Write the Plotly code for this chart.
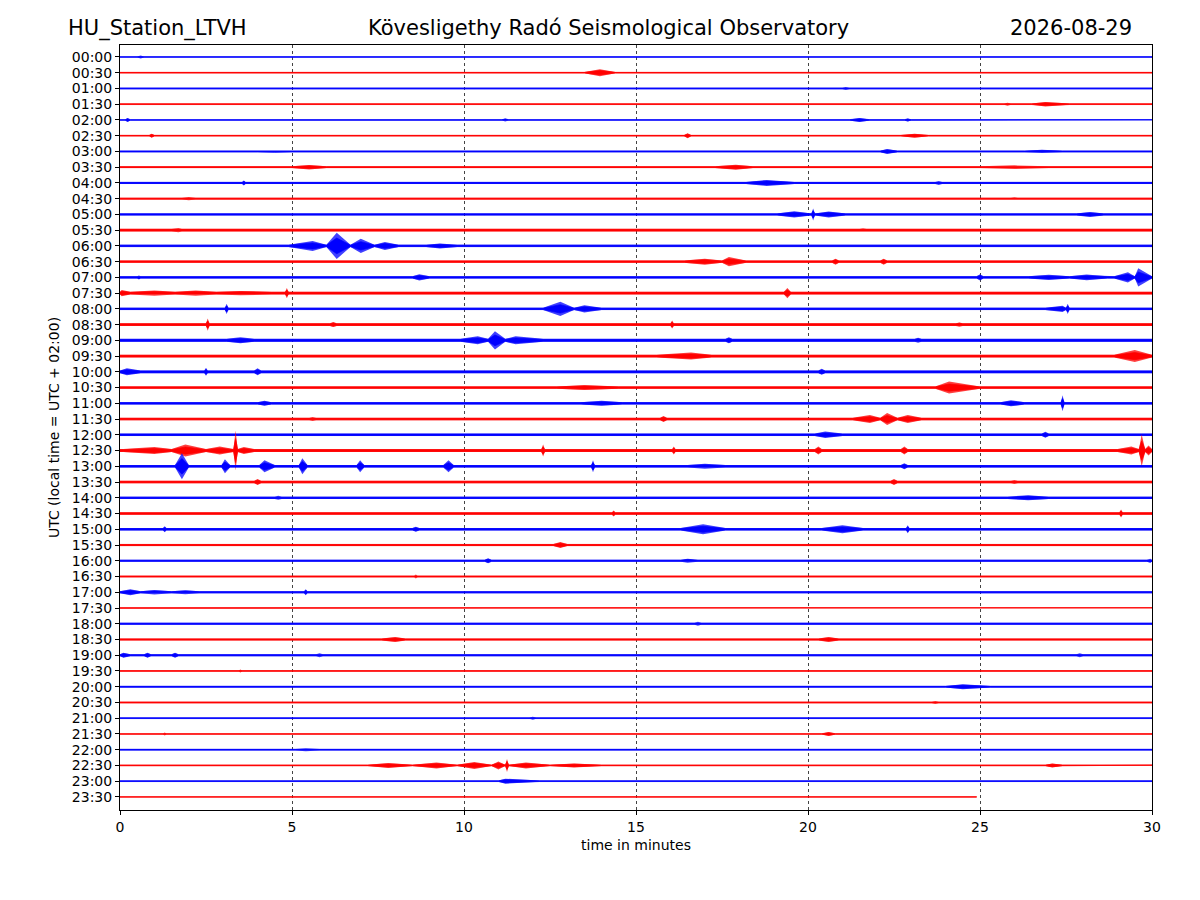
import plotly.graph_objects as go

# helicorder rows: one 30 minute line per half hour
HOURS = ["%02d:%02d" % (h, m) for h in range(24) for m in (0, 30)]
TRACE_END = [30.0] * 47 + [24.9]

# background noise half-width of each row (counts)
NOISE = [0.5, 0.6, 0.7, 0.6, 0.5, 0.6, 0.8, 0.8, 1.0, 0.8, 1.0, 1.3,
         1.2, 1.2, 1.2, 1.3, 1.2, 1.3, 1.5, 1.3, 1.4, 1.2, 1.2, 1.2,
         1.2, 1.5, 1.3, 1.2, 1.1, 1.2, 1.2, 1.0, 0.9, 0.8, 1.0, 0.6,
         0.9, 0.9, 0.9, 0.6, 0.8, 0.7, 0.6, 0.5, 0.7, 0.6, 0.6, 0.4]

# events per row: (start min, peak min, end min, peak amplitude)
EVENTS = {
    0: [(0.5, 0.6, 0.7, 1.5)],
    1: [(13.5, 13.95, 14.4, 3.5)],
    2: [(21.0, 21.1, 21.2, 1.5)],
    3: [(24.3, 24.4, 24.5, 1.3), (25.7, 25.8, 25.9, 1.5), (26.5, 26.9, 27.6, 2.2)],
    4: [(0.15, 0.22, 0.3, 2), (11.1, 11.2, 11.3, 1.5), (21.2, 21.5, 21.8, 2), (22.8, 22.9, 23.0, 1.5)],
    5: [(0.85, 0.92, 1.0, 2), (16.4, 16.5, 16.6, 2.5), (22.7, 23.1, 23.5, 2)],
    6: [(4.0, 4.5, 5.0, 1.5), (22.1, 22.3, 22.6, 2.5), (26.3, 26.8, 27.4, 1.6)],
    7: [(5.0, 5.5, 6.0, 2.2), (17.3, 17.9, 18.4, 2.5), (25.0, 26.0, 27.0, 1.8)],
    8: [(3.55, 3.6, 3.65, 2.5), (18.2, 18.8, 19.6, 3), (23.7, 23.8, 23.9, 2)],
    9: [(1.8, 2.0, 2.2, 1.6), (25.9, 26.0, 26.1, 1.5)],
    10: [(19.1, 19.6, 20.1, 3.2), (20.1, 20.15, 20.2, 6), (20.2, 20.6, 21.1, 3), (27.8, 28.2, 28.6, 2.5)],
    11: [(1.5, 1.7, 1.8, 2.2), (21.5, 21.6, 21.7, 2)],
    12: [(4.9, 5.6, 6.0, 5), (6.0, 6.3, 6.7, 13), (6.7, 7.0, 7.4, 7), (7.4, 7.7, 8.1, 4), (8.9, 9.3, 9.8, 2.5)],
    13: [(16.4, 17.0, 17.5, 3), (17.5, 17.7, 18.2, 4.5), (20.7, 20.8, 20.9, 3), (22.1, 22.2, 22.3, 3)],
    14: [(0.5, 0.55, 0.6, 2), (8.5, 8.7, 9.0, 3), (24.9, 25.0, 25.1, 3), (26.4, 27.0, 27.6, 2.5),
         (27.6, 28.1, 28.7, 2.8), (28.9, 29.3, 29.5, 5), (29.5, 29.6, 30.0, 9)],
    15: [(0.0, 0.05, 0.3, 3), (0.3, 1.0, 1.6, 2.5), (1.6, 2.2, 2.8, 2.5), (2.8, 3.5, 4.4, 2.2),
         (4.8, 4.85, 4.9, 5), (19.3, 19.4, 19.5, 5)],
    16: [(3.05, 3.1, 3.15, 5), (12.3, 12.8, 13.2, 7), (13.2, 13.5, 14.0, 3.5), (26.9, 27.4, 27.5, 3), (27.5, 27.55, 27.6, 5)],
    17: [(2.5, 2.55, 2.6, 6), (6.1, 6.2, 6.3, 2.5), (16.0, 16.05, 16.1, 4), (24.3, 24.4, 24.5, 2.2)],
    18: [(3.1, 3.5, 3.9, 3), (9.9, 10.4, 10.7, 4), (10.7, 10.9, 11.2, 9), (11.2, 11.5, 12.3, 4),
         (17.6, 17.7, 17.8, 3), (23.1, 23.2, 23.3, 2.5)],
    19: [(15.6, 16.6, 17.2, 3.5), (28.9, 29.5, 30.0, 6)],
    20: [(0.0, 0.2, 0.6, 3.5), (2.45, 2.5, 2.55, 4), (3.9, 4.0, 4.1, 3.5), (20.3, 20.4, 20.5, 3)],
    21: [(12.7, 13.5, 14.5, 2.5), (23.7, 24.1, 25.0, 6)],
    22: [(4.0, 4.2, 4.4, 2.5), (13.4, 14.0, 14.6, 2.5), (25.6, 25.9, 26.3, 3), (27.35, 27.4, 27.45, 8)],
    23: [(5.5, 5.6, 5.7, 2), (15.7, 15.8, 15.9, 3), (21.3, 21.8, 22.1, 4), (22.1, 22.3, 22.6, 6), (22.6, 22.9, 23.3, 4)],
    24: [(20.2, 20.5, 21.0, 3.2), (26.8, 26.9, 27.0, 3)],
    25: [(0.1, 1.0, 1.5, 3.5), (1.5, 1.9, 2.5, 6), (2.5, 2.9, 3.3, 4), (3.3, 3.36, 3.42, 20),
         (3.42, 3.6, 3.9, 3.5), (12.25, 12.3, 12.35, 6), (16.05, 16.1, 16.15, 4), (20.2, 20.3, 20.4, 4),
         (22.7, 22.8, 22.9, 4), (29.0, 29.4, 29.62, 4), (29.62, 29.7, 29.8, 16), (29.8, 29.9, 30.0, 5)],
    26: [(1.6, 1.8, 2.0, 13), (2.95, 3.05, 3.2, 7), (4.05, 4.2, 4.5, 6), (5.2, 5.3, 5.45, 8),
         (6.88, 6.98, 7.1, 6), (9.4, 9.55, 9.7, 6), (13.7, 13.75, 13.8, 6), (16.5, 17.0, 17.6, 2.5),
         (22.7, 22.8, 22.9, 3)],
    27: [(3.9, 4.0, 4.1, 3), (22.4, 22.5, 22.6, 3), (25.9, 26.0, 26.1, 2)],
    28: [(4.5, 4.6, 4.7, 2), (25.8, 26.4, 27.0, 2.5)],
    29: [(14.3, 14.35, 14.4, 3), (29.05, 29.1, 29.15, 4)],
    30: [(1.25, 1.3, 1.35, 3), (8.5, 8.6, 8.7, 2.5), (16.3, 16.95, 17.6, 5), (20.4, 21.0, 21.6, 4), (22.85, 22.9, 22.95, 4)],
    31: [(12.6, 12.8, 13.0, 3)],
    32: [(10.6, 10.7, 10.8, 2.5), (16.3, 16.5, 16.8, 2), (29.85, 29.95, 30.0, 2)],
    33: [(8.55, 8.6, 8.65, 2)],
    34: [(0.0, 0.3, 0.6, 3), (0.6, 1.0, 1.5, 2.2), (1.5, 1.9, 2.3, 2), (5.35, 5.4, 5.45, 3)],
    36: [(16.7, 16.8, 16.9, 2)],
    37: [(7.6, 8.0, 8.3, 2.5), (20.3, 20.6, 20.9, 2.5)],
    38: [(0.0, 0.1, 0.3, 2.5), (0.7, 0.8, 0.9, 2.5), (1.5, 1.6, 1.7, 2.5), (5.7, 5.8, 5.9, 2), (27.8, 27.9, 28.0, 2)],
    39: [(3.45, 3.5, 3.55, 1.5)],
    40: [(24.0, 24.5, 25.3, 2.5)],
    41: [(23.6, 23.7, 23.8, 1.5)],
    42: [(11.9, 12.0, 12.1, 1.5)],
    43: [(1.25, 1.3, 1.35, 1.5), (20.4, 20.6, 20.8, 2)],
    44: [(5.1, 5.4, 5.8, 1.5)],
    45: [(7.2, 7.8, 8.5, 2.5), (8.5, 9.2, 9.8, 3), (9.8, 10.3, 10.8, 3.5), (10.8, 11.0, 11.2, 4),
         (11.2, 11.25, 11.3, 6.5), (11.3, 11.8, 12.5, 3), (12.5, 13.2, 14.0, 2), (26.9, 27.1, 27.4, 2)],
    46: [(11.0, 11.2, 12.2, 2.5)],
    47: [(21.0, 21.2, 21.4, 1)],
}

AMP_SCALE = 1 / 15.7  # counts -> row spacing
CORE = 0.6            # share of the envelope drawn as the dense core

fig = go.Figure()
for i, label in enumerate(HOURS):
    rgb = "0,0,255" if i % 2 == 0 else "255,0,0"
    base = NOISE[i]
    xs, amps = [0.0], [base]
    for t0, tp, t1, a in EVENTS.get(i, []):
        xs += [t0, tp, t1]
        amps += [base, a, base]
    xs.append(TRACE_END[i])
    amps.append(base)
    # outer fringe, then solid core
    for share, alpha, lw in [(1.0, 0.75, 0.0), (CORE, 1.0, 0.7)]:
        upper = [-i + a * share * AMP_SCALE for a in amps]
        lower = [-i - a * share * AMP_SCALE for a in amps]
        fig.add_trace(go.Scatter(
            x=xs + xs[::-1], y=upper + lower[::-1],
            mode="lines", fill="toself", fillcolor="rgba(%s,%s)" % (rgb, alpha),
            line=dict(color="rgba(%s,%s)" % (rgb, alpha), width=lw),
            hoverinfo="skip", showlegend=False))

axis_font = dict(family="DejaVu Sans", size=14, color="black")
fig.update_layout(
    width=1200, height=900,
    # page body adds an 8px offset, so margins are shifted to compensate
    margin=dict(l=112, r=56, t=37, b=98),
    paper_bgcolor="white", plot_bgcolor="white",
    font=axis_font,
    xaxis=dict(
        range=[0, 30], tickvals=[0, 5, 10, 15, 20, 25, 30],
        showgrid=True, gridcolor="#444444", gridwidth=0.6, griddash="dot",
        zeroline=False, showline=True, linecolor="black", linewidth=1, mirror=True,
        ticks="outside", ticklen=4, tickcolor="black",
        title=dict(text="time in minutes", font=axis_font, standoff=6)),
    yaxis=dict(
        range=[-47.83, 0.76], tickvals=[-i for i in range(48)], ticktext=HOURS,
        showgrid=False, zeroline=False, showline=True, linecolor="black", linewidth=1, mirror=True,
        ticks="outside", ticklen=4, tickcolor="black",
        title=dict(text="UTC (local time = UTC + 02:00)", font=axis_font, standoff=8)),
)

title_font = dict(family="DejaVu Sans", size=21, color="black")
for text, x, anchor in [("HU_Station_LTVH", -0.0523, "left"),
                        ("Kövesligethy Radó Seismological Observatory", 0.473, "center"),
                        ("2026-08-29", 0.9826, "right")]:
    fig.add_annotation(text=text, x=x, y=1.022, xref="paper", yref="paper",
                       xanchor=anchor, yanchor="middle", showarrow=False, font=title_font)

fig.write_html("out.html")
